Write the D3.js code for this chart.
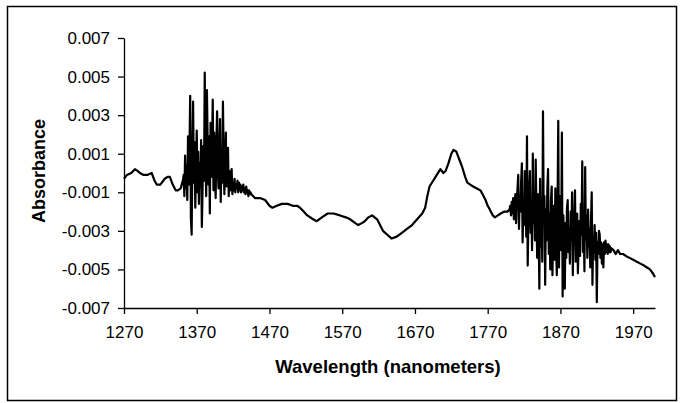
<!DOCTYPE html>
<html>
<head>
<meta charset="utf-8">
<script src="https://cdn.jsdelivr.net/npm/d3@7"></script>
<style>
  body { margin: 0; background: #fff; }
  svg { display: block; font-family: Arial, 'Liberation Sans', sans-serif; }
</style>
</head>
<body>
<svg id="chart"></svg>
<script>
const SVG_WIDTH = 681;
const SVG_HEIGHT = 403;

// Smooth start of the spectrum.
const startWavelengths = [1270, 1274, 1280, 1285, 1289, 1292, 1297, 1302, 1308, 1312, 1315,
  1320, 1326, 1330, 1333, 1337, 1341, 1344, 1348, 1350];
const startValues = [-0.0003, -0.0001, 0.0000, 0.0002, 0.0001, 0.0000, -0.0001, -0.0001, 0.0000,
  -0.0004, -0.0006, -0.0006, -0.0003, -0.0002, -0.0002, -0.0006, -0.0009, -0.0009, -0.0008, -0.0005];

// First noisy band, one value per nanometer from 1351.
const noise1Start = 1351;
const noise1Values = [
  -0.0004, -0.0001, -0.0012, 0.0009, -0.0008, 0.0004, -0.0014, 0.0019, -0.0006, 0.0012,
  0.0040, -0.0024, -0.0032, 0.0008, 0.0037, -0.0005, 0.0016, -0.0018, 0.0003, 0.0022,
  -0.0010, 0.0011, -0.0016, 0.0005, -0.0007, 0.0017, -0.0028, -0.0009, 0.0014, -0.0004,
  0.0052, 0.0008, -0.0012, 0.0043, 0.0016, -0.0006, 0.0019, -0.0021, 0.0026, -0.0002,
  0.0012, 0.0038, -0.0009, 0.0021, 0.0004, -0.0013, 0.0015, 0.0032, 0.0002, -0.0008,
  0.0011, 0.0028, -0.0015, 0.0006, -0.0005, 0.0037, 0.0009, -0.0011, 0.0004, 0.0021,
  -0.0007, -0.0002, 0.0013, -0.0012, 0.0001, -0.0009, -0.0003, 0.0002, -0.0011, -0.0005,
  -0.0009, -0.0003, -0.0010, -0.0006, -0.0008, -0.0004, -0.0010, -0.0005, -0.0009, -0.0006,
  -0.0010, -0.0007, -0.0009, -0.0006, -0.0010, -0.0008, -0.0011, -0.0007, -0.0010, -0.0009,
  -0.0012, -0.0009, -0.0011, -0.0010
];

// Smooth middle section with the 1720 nm peak.
const midWavelengths = [1445, 1450, 1457, 1464, 1470, 1474, 1480, 1487, 1495, 1502, 1508, 1512,
  1517, 1522, 1530, 1535, 1542, 1550, 1558, 1567, 1575, 1581, 1588, 1592, 1597, 1601, 1606,
  1611, 1618, 1622, 1626, 1632, 1638, 1645, 1652, 1659, 1666, 1673, 1680, 1684, 1687, 1690,
  1695, 1700, 1705, 1709, 1712, 1716, 1720, 1723, 1727, 1731, 1735, 1739, 1742, 1746, 1750,
  1755, 1760, 1763, 1767, 1770, 1773, 1777, 1780, 1784, 1788, 1793, 1797, 1800];
const midValues = [-0.0011, -0.0013, -0.0013, -0.0014, -0.0017, -0.0018, -0.0017, -0.0016,
  -0.0016, -0.0017, -0.0017, -0.0018, -0.0020, -0.0022, -0.0024, -0.0025, -0.0023, -0.0021,
  -0.0021, -0.0022, -0.0023, -0.0024, -0.0026, -0.0027, -0.0026, -0.0025, -0.0023, -0.0022,
  -0.0024, -0.0027, -0.0030, -0.0032, -0.0034, -0.0033, -0.0031, -0.0029, -0.0027, -0.0024,
  -0.0021, -0.0018, -0.0012, -0.0007, -0.0004, -0.0001, 0.0002, 0.0000, 0.0001, 0.0005, 0.0010,
  0.0012, 0.0011, 0.0007, 0.0003, -0.0002, -0.0005, -0.0006, -0.0007, -0.0008, -0.0009, -0.0011,
  -0.0014, -0.0017, -0.0019, -0.0022, -0.0023, -0.0022, -0.0021, -0.0020, -0.0020, -0.0019];

// Second noisy band, one value per nanometer from 1801.
const noise2Start = 1801;
const noise2Values = [
  -0.0017, -0.0022, -0.0015, -0.0021, -0.0013, -0.0024, -0.0016, -0.0011, -0.0026, -0.0014,
  -0.0008, -0.0001, -0.0029, -0.0012, -0.0020, -0.0004, 0.0005, -0.0036, -0.0018, -0.0027,
  0.0001, -0.0010, -0.0033, 0.0019, -0.0048, -0.0022, -0.0009, 0.0001, -0.0031, -0.0015,
  -0.0040, 0.0010, -0.0026, -0.0012, -0.0035, 0.0007, -0.0020, -0.0044, -0.0011, -0.0029,
  -0.0060, -0.0003, -0.0038, -0.0016, -0.0046, 0.0032, -0.0024, -0.0012, -0.0058, -0.0019,
  -0.0035, -0.0008, 0.0002, -0.0042, -0.0021, -0.0050, -0.0014, -0.0007, -0.0053, -0.0028,
  -0.0017, -0.0045, -0.0008, -0.0036, -0.0053, -0.0019, 0.0027, -0.0049, -0.0012, -0.0031,
  -0.0040, 0.0021, -0.0064, -0.0022, -0.0037, -0.0060, -0.0026, -0.0044, -0.0018, -0.0014,
  -0.0041, -0.0029, -0.0047, -0.0020, -0.0035, -0.0010, -0.0053, -0.0031, -0.0024, -0.0009,
  -0.0046, -0.0033, -0.0021, -0.0052, -0.0038, -0.0025, -0.0043, -0.0016, -0.0032, 0.0006,
  -0.0041, -0.0027, -0.0051, 0.0003, -0.0035, -0.0022, -0.0044, -0.0019, -0.0038, -0.0029,
  -0.0049, -0.0025, -0.0010, -0.0058, -0.0033, -0.0041, -0.0027, -0.0045, -0.0031, -0.0067,
  -0.0036, -0.0042, -0.0030, -0.0032, -0.0044, -0.0036, -0.0047, -0.0037, -0.0049, -0.0036,
  -0.0042, -0.0035, -0.0041, -0.0037, -0.0042, -0.0037, -0.0041, -0.0038, -0.0041, -0.0039
];

// Smooth tail.
const tailWavelengths = [1943, 1946, 1949, 1952, 1956, 1960, 1965, 1970, 1975, 1980, 1985,
  1989, 1993, 1997, 2000];
const tailValues = [-0.0040, -0.0042, -0.0040, -0.0042, -0.0042, -0.0043, -0.0044, -0.0045,
  -0.0046, -0.0047, -0.0048, -0.0049, -0.0050, -0.0052, -0.0054];

const xTicks = [1270, 1370, 1470, 1570, 1670, 1770, 1870, 1970];
const yTicks = [-0.007, -0.005, -0.003, -0.001, 0.001, 0.003, 0.005, 0.007];

const points = [
  ...startWavelengths.map((w, i) => [w, startValues[i]]),
  ...noise1Values.map((v, i) => [noise1Start + i, v]),
  ...midWavelengths.map((w, i) => [w, midValues[i]]),
  ...noise2Values.map((v, i) => [noise2Start + i, v]),
  ...tailWavelengths.map((w, i) => [w, tailValues[i]])
];

const plot = {left: 124, right: 655, top: 38, bottom: 308};

const svg = d3
  .select('#chart')
  .attr('width', SVG_WIDTH)
  .attr('height', SVG_HEIGHT)
  .attr('viewBox', `0 0 ${SVG_WIDTH} ${SVG_HEIGHT}`);

// Outer chart border.
svg
  .append('rect')
  .attr('x', 7.5)
  .attr('y', 6.5)
  .attr('width', 669)
  .attr('height', 394)
  .attr('fill', 'none')
  .attr('stroke', '#000')
  .attr('stroke-width', 1.5);

const x = d3.scaleLinear().domain([1270, 2000]).range([plot.left, plot.right]);
const y = d3.scaleLinear().domain([-0.007, 0.007]).range([plot.bottom, plot.top]);

const xAxis = svg
  .append('g')
  .attr('transform', `translate(0,${plot.bottom})`)
  .call(
    d3
      .axisBottom(x)
      .tickValues(xTicks)
      .tickSize(6)
      .tickSizeOuter(0)
      .tickPadding(12)
      .tickFormat(d3.format('d'))
  );

const yAxis = svg
  .append('g')
  .attr('transform', `translate(${plot.left},0)`)
  .call(
    d3
      .axisLeft(y)
      .tickValues(yTicks)
      .tickSize(6)
      .tickSizeOuter(0)
      .tickPadding(8)
      .tickFormat(d => d3.format('.3f')(d).replace('\u2212', '-'))
  );

for (const axis of [xAxis, yAxis]) {
  axis.select('.domain').attr('stroke', '#000').attr('stroke-width', 1.3);
  axis.selectAll('.tick line').attr('stroke', '#000').attr('stroke-width', 1.3);
  axis
    .selectAll('.tick text')
    .attr('fill', '#000')
    .style('font-size', '17px')
    .style('font-family', 'Arial, "Liberation Sans", sans-serif');
}

// The spectrum.
const line = d3
  .line()
  .x(d => x(d[0]))
  .y(d => y(d[1]));

svg
  .append('path')
  .datum(points)
  .attr('d', line)
  .attr('fill', 'none')
  .attr('stroke', '#000')
  .attr('stroke-width', 2.2)
  .attr('stroke-linejoin', 'round');

svg
  .append('text')
  .attr('x', 388)
  .attr('y', 373)
  .attr('text-anchor', 'middle')
  .style('font-size', '18.5px')
  .style('font-weight', 'bold')
  .text('Wavelength (nanometers)');

svg
  .append('text')
  .attr('transform', 'translate(45,171) rotate(-90)')
  .attr('text-anchor', 'middle')
  .style('font-size', '18px')
  .style('font-weight', 'bold')
  .text('Absorbance');
</script>
</body>
</html>
